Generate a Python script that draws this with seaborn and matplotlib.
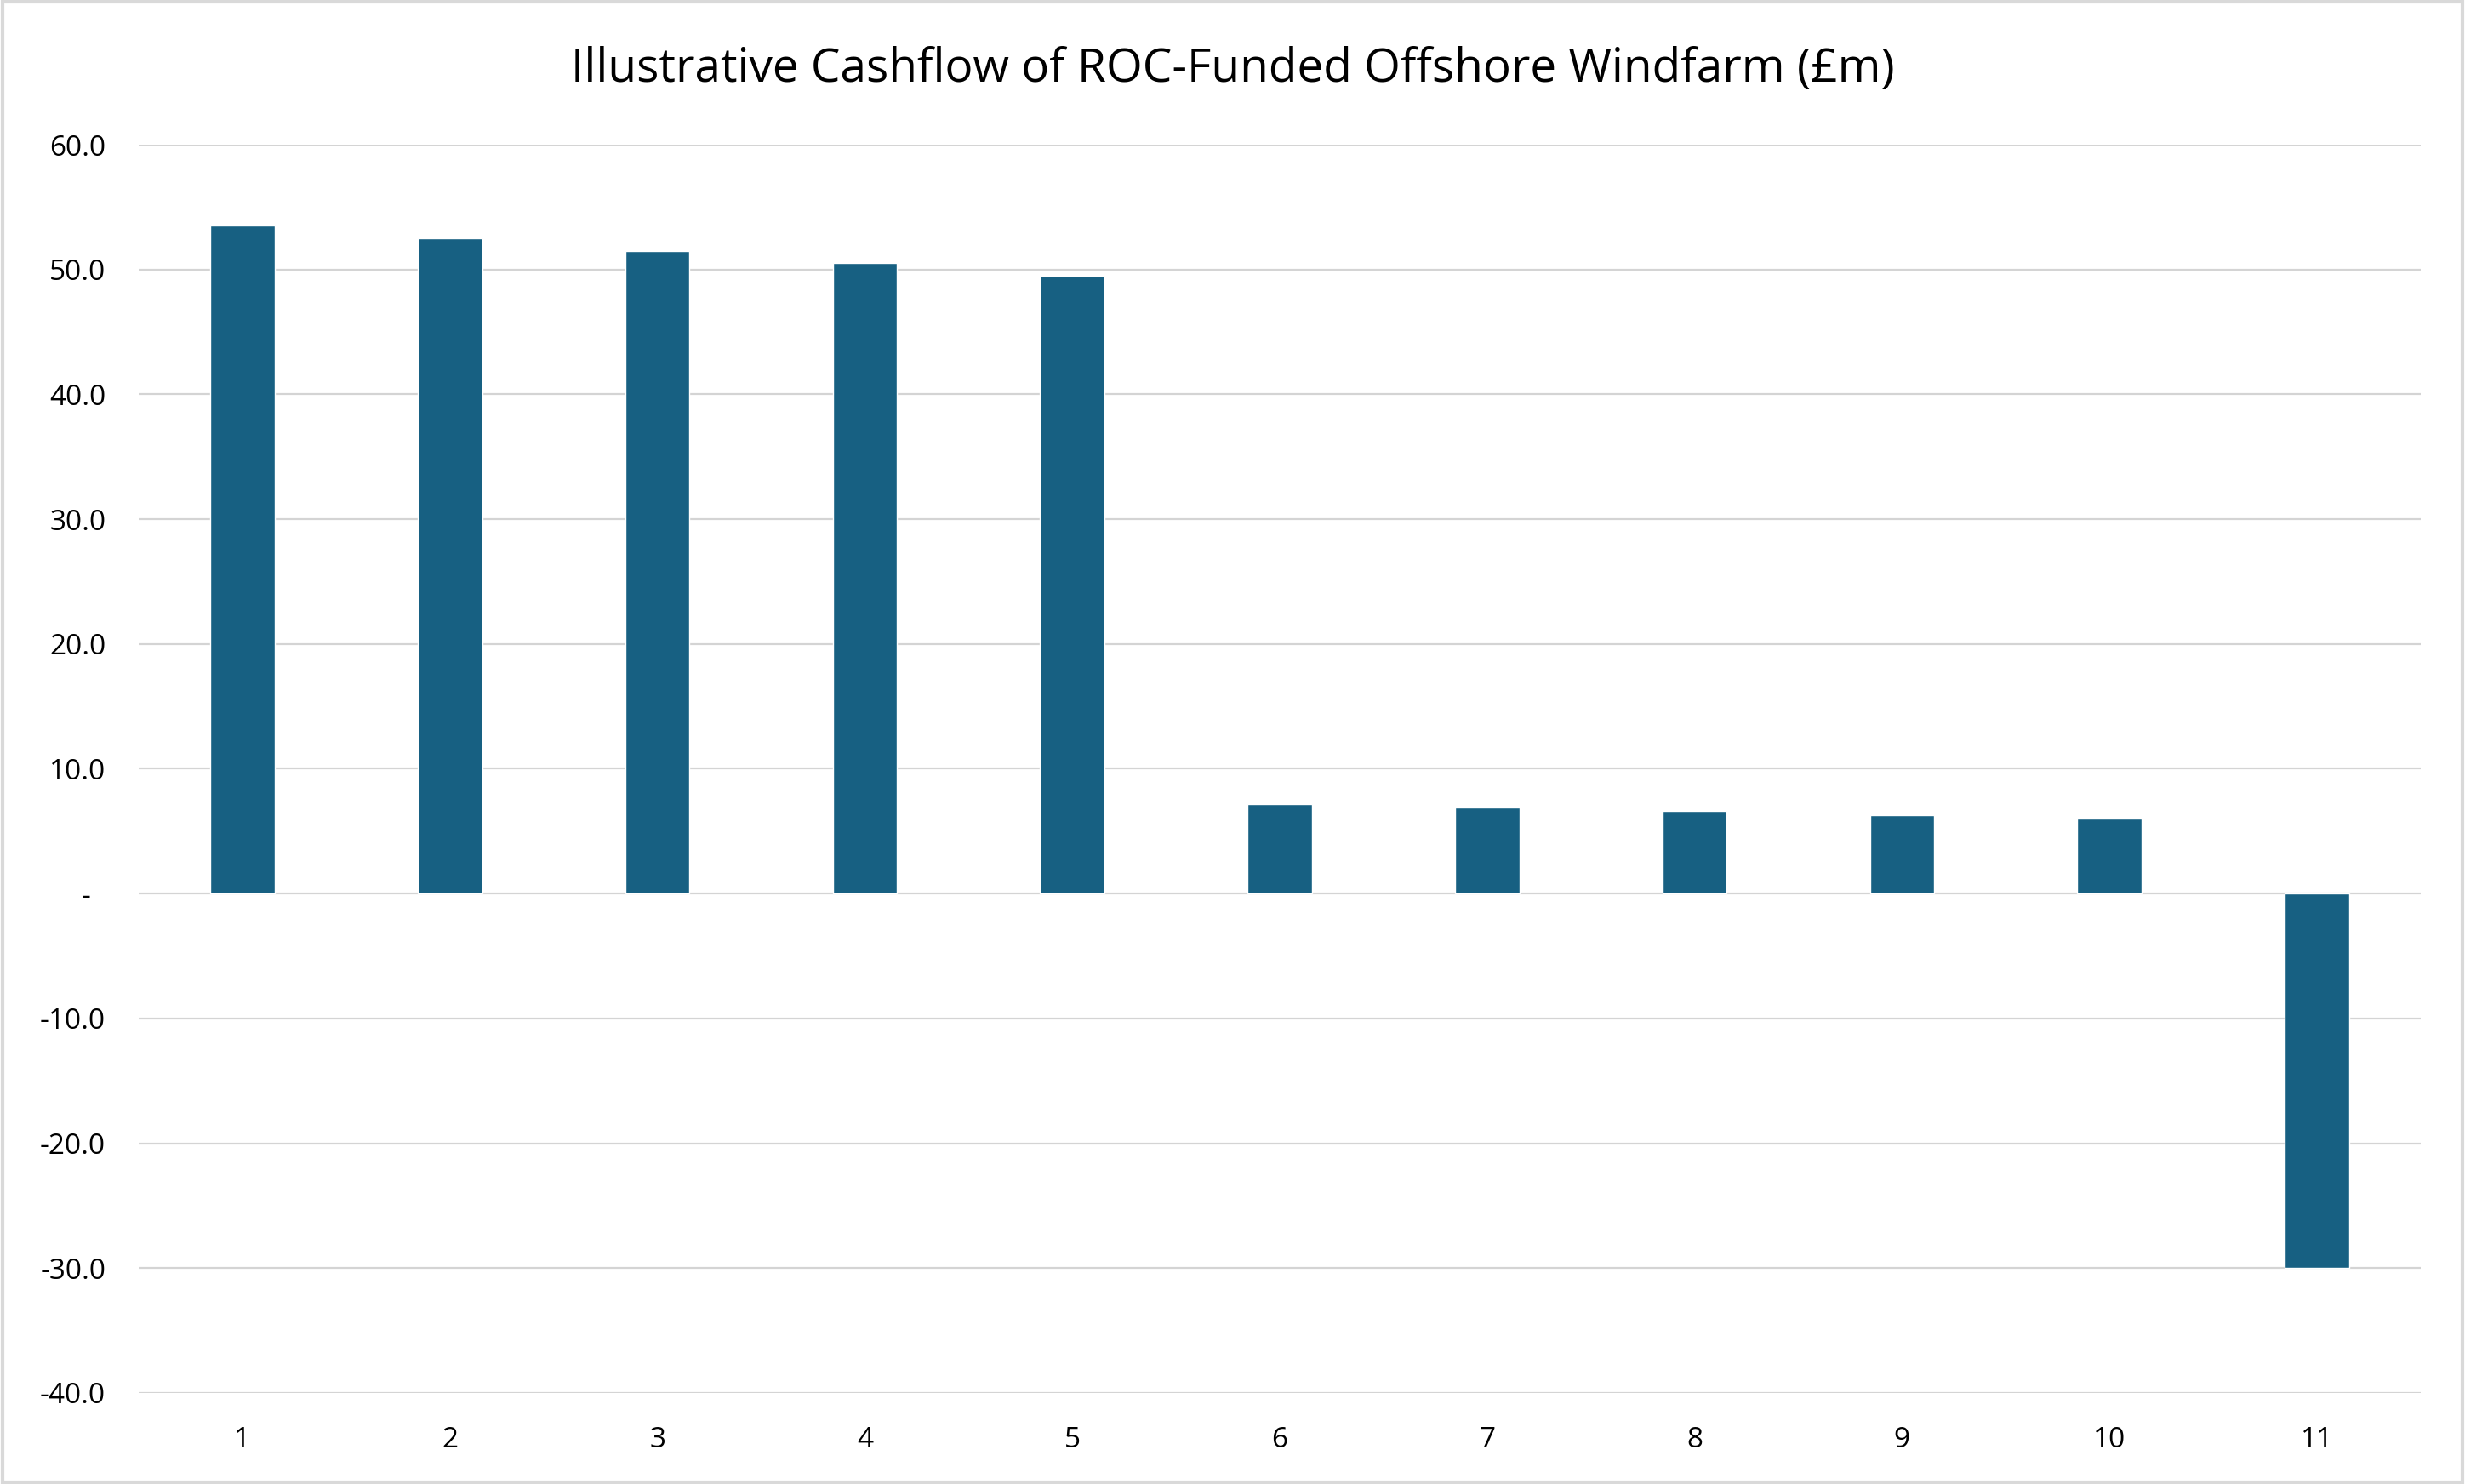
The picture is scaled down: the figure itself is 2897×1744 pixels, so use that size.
import matplotlib
matplotlib.use('Agg')
import matplotlib.pyplot as plt
import seaborn as sns
import pandas as pd
from matplotlib.patches import Rectangle

# values (£m)
periods = ["1", "2", "3", "4", "5", "6", "7", "8", "9", "10", "11"]
cashflow = [53.5, 52.5, 51.5, 50.5, 49.5, 7.2, 6.9, 6.6, 6.3, 6.0, -30.0]
y_ticks = [-40, -30, -20, -10, 0, 10, 20, 30, 40, 50, 60]
y_labels = ["-40.0", "-30.0", "-20.0", "-10.0", "-  ", "10.0", "20.0", "30.0", "40.0", "50.0", "60.0"]
title = "Illustrative Cashflow of ROC-Funded Offshore Windfarm (£m)"

df = pd.DataFrame({"period": periods, "cashflow": cashflow})

sns.set_theme(style="white")
plt.rcParams['font.family'] = ['Open Sans', 'DejaVu Sans']

fig = plt.figure(figsize=(28.97, 17.44), dpi=100)
ax = fig.add_axes([0.0563, 0.0614, 0.9257, 0.8411])

sns.barplot(data=df, x="period", y="cashflow", color="#176082", saturation=1,
            width=0.31, ax=ax, zorder=3)

ax.set_ylim(-40, 60)
ax.set_xlim(-0.5, len(periods) - 0.5)
ax.set_yticks(y_ticks)
ax.set_yticklabels(y_labels)
ax.yaxis.grid(True, color="#d4d4d4", linewidth=1.6, zorder=0)
ax.set_axisbelow(True)
for s in ax.spines.values():
    s.set_visible(False)
ax.tick_params(axis="both", length=0, labelsize=24, colors="black")
ax.tick_params(axis="y", pad=28)
ax.tick_params(axis="x", pad=28)
ax.set_xlabel("")
ax.set_ylabel("")

fig.text(0.5, 0.953, title, ha="center", va="center", fontsize=39.5, color="black")

# light border round the whole chart
fig.patches.append(Rectangle((0.001, 0.001), 0.998, 0.998, transform=fig.transFigure,
                             fill=False, edgecolor="#d9d9d9", linewidth=3))

fig.savefig("out.png", dpi=100)
